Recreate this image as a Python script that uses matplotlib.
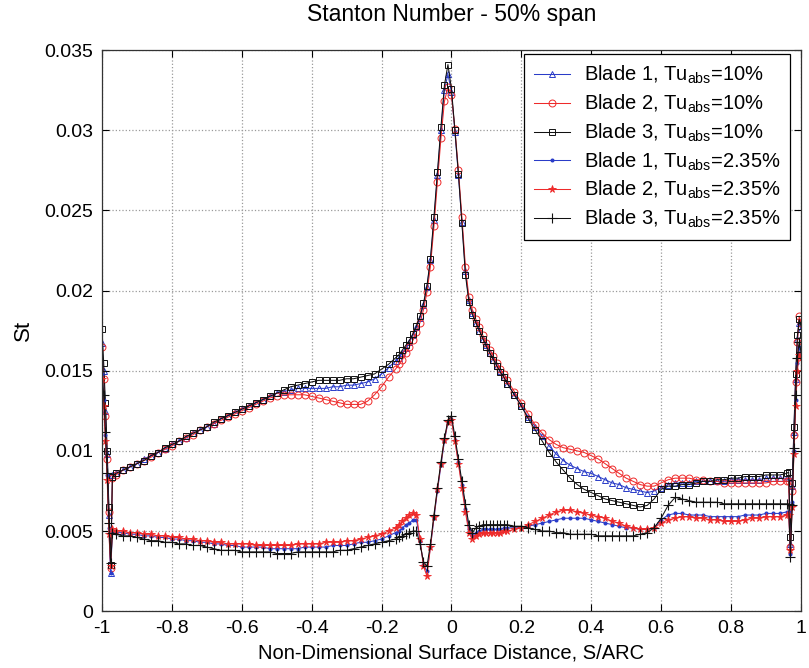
import matplotlib
matplotlib.use("Agg")
import matplotlib.pyplot as plt
from matplotlib import font_manager

# ---------------------------------------------------------------- data
# Surface stations (S/ARC) shared by every measurement series
s_arc = ([-1.0, -0.995, -0.99, -0.985, -0.98, -0.975, -0.97]
         + [-0.96, -0.94, -0.92, -0.90, -0.88, -0.86, -0.84, -0.82, -0.80, -0.78,
            -0.76, -0.74, -0.72, -0.70, -0.68, -0.66, -0.64, -0.62, -0.60, -0.58,
            -0.56, -0.54, -0.52, -0.50, -0.48, -0.46, -0.44, -0.42, -0.40, -0.38,
            -0.36, -0.34, -0.32, -0.30, -0.28, -0.26, -0.24, -0.22, -0.20, -0.18,
            -0.16]
         + [-0.15, -0.14, -0.13, -0.12, -0.11, -0.10, -0.09, -0.08, -0.07, -0.06,
            -0.05, -0.04, -0.03, -0.02, -0.01, 0.00, 0.01, 0.02, 0.03, 0.04,
            0.05, 0.06, 0.07, 0.08, 0.09, 0.10, 0.11, 0.12, 0.13, 0.14, 0.15]
         + [0.16, 0.18, 0.20, 0.22, 0.24, 0.26, 0.28, 0.30, 0.32, 0.34,
            0.36, 0.38, 0.40, 0.42, 0.44, 0.46, 0.48, 0.50, 0.52, 0.54,
            0.56, 0.58, 0.60, 0.62, 0.64, 0.66, 0.68, 0.70, 0.72, 0.74,
            0.76, 0.78, 0.80, 0.82, 0.84, 0.86, 0.88, 0.90, 0.92, 0.94, 0.96]
         + [0.965, 0.97, 0.975, 0.98, 0.985, 0.99, 0.995, 1.0])

# Blade 1, Tu_abs = 10 %
st_blade1_tu10 = ([0.0167, 0.0150, 0.0125, 0.0098, 0.0060, 0.0024, 0.0085]
    + [0.0086, 0.0088, 0.0090, 0.0092, 0.0095, 0.0097, 0.0099, 0.0101, 0.0104, 0.0106,
       0.0108, 0.0111, 0.0113, 0.0115, 0.0117, 0.0120, 0.0122, 0.0124, 0.0126, 0.0128,
       0.0130, 0.0132, 0.0134, 0.0136, 0.0137, 0.0138, 0.0139, 0.0139, 0.0139, 0.0139,
       0.0139, 0.0140, 0.0140, 0.0141, 0.0141, 0.0142, 0.0143, 0.0145, 0.0148, 0.0152,
       0.0156]
    + [0.0158, 0.0161, 0.0164, 0.0168, 0.0172, 0.0177, 0.0183, 0.0191, 0.0202, 0.0219,
       0.0244, 0.0272, 0.0300, 0.0325, 0.0335, 0.0324, 0.0299, 0.0272, 0.0243, 0.0212,
       0.0194, 0.0186, 0.0180, 0.0175, 0.0170, 0.0166, 0.0161, 0.0157, 0.0153, 0.0150,
       0.0146]
    + [0.0142, 0.0135, 0.0128, 0.0121, 0.0115, 0.0109, 0.0103, 0.0098, 0.0094, 0.0091,
       0.0089, 0.0087, 0.0086, 0.0084, 0.0082, 0.0080, 0.0079, 0.0077, 0.0076, 0.0075,
       0.0074, 0.0075, 0.0077, 0.0079, 0.0080, 0.0080, 0.0080, 0.0081, 0.0081, 0.0081,
       0.0081, 0.0081, 0.0082, 0.0082, 0.0082, 0.0082, 0.0082, 0.0083, 0.0083, 0.0083,
       0.0083]
    + [0.0083, 0.0042, 0.0078, 0.0112, 0.0145, 0.0170, 0.0180, 0.0176])

# Blade 2, Tu_abs = 10 %
st_blade2_tu10 = ([0.0165, 0.0145, 0.0122, 0.0095, 0.0062, 0.0027, 0.0083]
    + [0.0085, 0.0088, 0.0090, 0.0092, 0.0094, 0.0096, 0.0099, 0.0101, 0.0103, 0.0106,
       0.0108, 0.0110, 0.0113, 0.0115, 0.0117, 0.0119, 0.0121, 0.0123, 0.0125, 0.0127,
       0.0129, 0.0131, 0.0133, 0.0134, 0.0135, 0.0135, 0.0135, 0.0135, 0.0134, 0.0133,
       0.0132, 0.0131, 0.0130, 0.0129, 0.0129, 0.0129, 0.0131, 0.0135, 0.0140, 0.0146,
       0.0151]
    + [0.0154, 0.0157, 0.0161, 0.0165, 0.0169, 0.0174, 0.0180, 0.0188, 0.0199, 0.0215,
       0.0240, 0.0268, 0.0295, 0.0318, 0.0327, 0.0322, 0.0301, 0.0275, 0.0246, 0.0215,
       0.0196, 0.0188, 0.0182, 0.0177, 0.0172, 0.0167, 0.0163, 0.0159, 0.0155, 0.0151,
       0.0148]
    + [0.0144, 0.0137, 0.0130, 0.0123, 0.0116, 0.0111, 0.0107, 0.0104, 0.0102, 0.0101,
       0.0100, 0.0099, 0.0097, 0.0095, 0.0092, 0.0089, 0.0086, 0.0083, 0.0081, 0.0079,
       0.0078, 0.0078, 0.0080, 0.0082, 0.0083, 0.0083, 0.0083, 0.0082, 0.0082, 0.0081,
       0.0081, 0.0080, 0.0080, 0.0080, 0.0080, 0.0080, 0.0080, 0.0080, 0.0081, 0.0081,
       0.0081]
    + [0.0081, 0.0040, 0.0075, 0.0110, 0.0143, 0.0168, 0.0184, 0.0180])

# Blade 3, Tu_abs = 10 %
st_blade3_tu10 = ([0.0176, 0.0155, 0.0130, 0.0100, 0.0065, 0.0029, 0.0084]
    + [0.0086, 0.0088, 0.0090, 0.0092, 0.0094, 0.0097, 0.0099, 0.0102, 0.0104, 0.0106,
       0.0109, 0.0111, 0.0113, 0.0115, 0.0118, 0.0120, 0.0122, 0.0124, 0.0126, 0.0128,
       0.0130, 0.0132, 0.0134, 0.0136, 0.0138, 0.0140, 0.0141, 0.0142, 0.0143, 0.0144,
       0.0144, 0.0144, 0.0144, 0.0145, 0.0145, 0.0146, 0.0147, 0.0148, 0.0151, 0.0154,
       0.0158]
    + [0.0160, 0.0163, 0.0166, 0.0169, 0.0173, 0.0178, 0.0184, 0.0192, 0.0203, 0.0220,
       0.0246, 0.0274, 0.0302, 0.0328, 0.0341, 0.0326, 0.0300, 0.0273, 0.0242, 0.0210,
       0.0193, 0.0185, 0.0180, 0.0175, 0.0170, 0.0165, 0.0161, 0.0157, 0.0153, 0.0149,
       0.0146]
    + [0.0142, 0.0135, 0.0128, 0.0120, 0.0113, 0.0106, 0.0099, 0.0093, 0.0088, 0.0083,
       0.0079, 0.0076, 0.0074, 0.0072, 0.0070, 0.0069, 0.0068, 0.0067, 0.0066, 0.0065,
       0.0066, 0.0070, 0.0076, 0.0078, 0.0078, 0.0079, 0.0079, 0.0080, 0.0081, 0.0081,
       0.0082, 0.0082, 0.0083, 0.0083, 0.0084, 0.0084, 0.0084, 0.0085, 0.0085, 0.0085,
       0.0086]
    + [0.0087, 0.0046, 0.0080, 0.0115, 0.0148, 0.0172, 0.0182, 0.0178])

# Blade 1, Tu_abs = 2.35 %
st_blade1_tu235 = ([0.0148, 0.0132, 0.0110, 0.0085, 0.0052, 0.0024, 0.0050]
    + [0.0049, 0.0049, 0.0048, 0.0048, 0.0047, 0.0047, 0.0046, 0.0046, 0.0045, 0.0045,
       0.0044, 0.0044, 0.0043, 0.0043, 0.0042, 0.0042, 0.0041, 0.0041, 0.0040, 0.0040,
       0.0040, 0.0040, 0.0039, 0.0039, 0.0039, 0.0039, 0.0039, 0.0040, 0.0040, 0.0040,
       0.0040, 0.0041, 0.0041, 0.0041, 0.0042, 0.0043, 0.0043, 0.0044, 0.0045, 0.0047,
       0.0049]
    + [0.0050, 0.0052, 0.0054, 0.0055, 0.0057, 0.0057, 0.0044, 0.0029, 0.0025, 0.0040,
       0.0058, 0.0075, 0.0091, 0.0106, 0.0118, 0.0120, 0.0107, 0.0093, 0.0079, 0.0064,
       0.0051, 0.0047, 0.0049, 0.0050, 0.0051, 0.0051, 0.0051, 0.0051, 0.0051, 0.0051,
       0.0052]
    + [0.0052, 0.0052, 0.0052, 0.0053, 0.0054, 0.0055, 0.0056, 0.0057, 0.0058, 0.0058,
       0.0058, 0.0058, 0.0057, 0.0056, 0.0055, 0.0054, 0.0053, 0.0052, 0.0052, 0.0051,
       0.0051, 0.0052, 0.0057, 0.0060, 0.0061, 0.0061, 0.0060, 0.0060, 0.0060, 0.0059,
       0.0059, 0.0059, 0.0059, 0.0059, 0.0060, 0.0060, 0.0060, 0.0061, 0.0061, 0.0061,
       0.0062]
    + [0.0062, 0.0036, 0.0068, 0.0100, 0.0132, 0.0155, 0.0165, 0.0160])

# Blade 2, Tu_abs = 2.35 %
st_blade2_tu235 = ([0.0145, 0.0128, 0.0106, 0.0082, 0.0048, 0.0028, 0.0051]
    + [0.0050, 0.0050, 0.0049, 0.0049, 0.0048, 0.0048, 0.0047, 0.0047, 0.0046, 0.0046,
       0.0045, 0.0045, 0.0044, 0.0044, 0.0043, 0.0043, 0.0042, 0.0042, 0.0042, 0.0042,
       0.0041, 0.0041, 0.0041, 0.0041, 0.0041, 0.0041, 0.0042, 0.0042, 0.0042, 0.0042,
       0.0043, 0.0043, 0.0043, 0.0044, 0.0044, 0.0045, 0.0046, 0.0047, 0.0048, 0.0050,
       0.0052]
    + [0.0054, 0.0056, 0.0058, 0.0060, 0.0061, 0.0060, 0.0045, 0.0028, 0.0022, 0.0040,
       0.0059, 0.0076, 0.0092, 0.0107, 0.0118, 0.0119, 0.0106, 0.0092, 0.0077, 0.0062,
       0.0049, 0.0045, 0.0047, 0.0048, 0.0049, 0.0049, 0.0049, 0.0049, 0.0049, 0.0049,
       0.0050]
    + [0.0050, 0.0051, 0.0052, 0.0054, 0.0056, 0.0058, 0.0060, 0.0062, 0.0063, 0.0063,
       0.0062, 0.0061, 0.0060, 0.0059, 0.0058, 0.0056, 0.0055, 0.0053, 0.0052, 0.0051,
       0.0051, 0.0052, 0.0055, 0.0057, 0.0058, 0.0059, 0.0059, 0.0058, 0.0058, 0.0057,
       0.0057, 0.0056, 0.0056, 0.0056, 0.0057, 0.0058, 0.0058, 0.0059, 0.0059, 0.0059,
       0.0060]
    + [0.0060, 0.0038, 0.0065, 0.0098, 0.0128, 0.0150, 0.0160, 0.0158])

# Blade 3, Tu_abs = 2.35 %
st_blade3_tu235 = ([0.0150, 0.0135, 0.0112, 0.0086, 0.0055, 0.0030, 0.0049]
    + [0.0048, 0.0047, 0.0047, 0.0046, 0.0045, 0.0044, 0.0044, 0.0043, 0.0043, 0.0042,
       0.0042, 0.0041, 0.0041, 0.0040, 0.0039, 0.0038, 0.0038, 0.0038, 0.0037, 0.0037,
       0.0037, 0.0037, 0.0037, 0.0036, 0.0036, 0.0036, 0.0037, 0.0037, 0.0037, 0.0037,
       0.0037, 0.0037, 0.0038, 0.0038, 0.0039, 0.0040, 0.0041, 0.0042, 0.0043, 0.0044,
       0.0045]
    + [0.0046, 0.0047, 0.0048, 0.0049, 0.0050, 0.0050, 0.0042, 0.0031, 0.0028, 0.0042,
       0.0060, 0.0077, 0.0093, 0.0108, 0.0119, 0.0122, 0.0109, 0.0095, 0.0081, 0.0067,
       0.0054, 0.0049, 0.0052, 0.0053, 0.0054, 0.0054, 0.0054, 0.0054, 0.0054, 0.0054,
       0.0054]
    + [0.0054, 0.0053, 0.0053, 0.0052, 0.0051, 0.0050, 0.0050, 0.0049, 0.0049, 0.0048,
       0.0048, 0.0048, 0.0048, 0.0047, 0.0047, 0.0047, 0.0047, 0.0047, 0.0047, 0.0048,
       0.0049, 0.0052, 0.0058, 0.0066, 0.0071, 0.0070, 0.0069, 0.0068, 0.0068, 0.0068,
       0.0068, 0.0067, 0.0067, 0.0067, 0.0067, 0.0067, 0.0067, 0.0067, 0.0067, 0.0067,
       0.0067]
    + [0.0067, 0.0034, 0.0066, 0.0102, 0.0135, 0.0158, 0.0168, 0.0162])

series_labels = [r"Blade 1, Tu$_{\rm abs}$=10%",
                 r"Blade 2, Tu$_{\rm abs}$=10%",
                 r"Blade 3, Tu$_{\rm abs}$=10%",
                 r"Blade 1, Tu$_{\rm abs}$=2.35%",
                 r"Blade 2, Tu$_{\rm abs}$=2.35%",
                 r"Blade 3, Tu$_{\rm abs}$=2.35%"]

x_ticks = [-1, -0.8, -0.6, -0.4, -0.2, 0, 0.2, 0.4, 0.6, 0.8, 1]
x_tick_labels = ["-1", "-0.8", "-0.6", "-0.4", "-0.2", "0", "0.2", "0.4", "0.6", "0.8", "1"]
y_ticks = [0, 0.005, 0.01, 0.015, 0.02, 0.025, 0.03, 0.035]
y_tick_labels = ["0", "0.005", "0.01", "0.015", "0.02", "0.025", "0.03", "0.035"]

# ---------------------------------------------------------------- style
installed = {f.name for f in font_manager.fontManager.ttflist}
family = "Liberation Sans Narrow" if "Liberation Sans Narrow" in installed else "Liberation Sans"
plt.rcParams["font.family"] = [family, "DejaVu Sans"]
plt.rcParams["mathtext.fontset"] = "custom"
plt.rcParams["mathtext.rm"] = family
plt.rcParams["mathtext.it"] = family
plt.rcParams["mathtext.bf"] = family

blue = "#2a3cc8"
red = "#ee2a2a"
black = "#111111"

styles = [
    dict(color=blue, marker="^", ms=4.6, mfc="none", mew=0.7),
    dict(color=red, marker="o", ms=5.0, mfc="none", mew=0.7),
    dict(color=black, marker="s", ms=4.8, mfc="none", mew=0.7),
    dict(color=blue, marker=".", ms=3.8),
    dict(color=red, marker="*", ms=5.5, mew=0.6),
    dict(color=black, marker="+", ms=6.5, mew=0.8),
]
series = [st_blade1_tu10, st_blade2_tu10, st_blade3_tu10,
          st_blade1_tu235, st_blade2_tu235, st_blade3_tu235]

for vals in series:
    assert len(vals) == len(s_arc)

# ---------------------------------------------------------------- figure
fig = plt.figure(figsize=(8.09, 6.68), dpi=100)
ax = fig.add_axes([0.126, 0.085, 0.864, 0.84])

for vals, lab, st in zip(series, series_labels, styles):
    ax.plot(s_arc, vals, lw=0.75, label=lab, **st)

ax.set_xlim(-1, 1)
ax.set_ylim(0, 0.035)
ax.set_xticks(x_ticks)
ax.set_xticklabels(x_tick_labels)
ax.set_yticks(y_ticks)
ax.set_yticklabels(y_tick_labels)
ax.tick_params(direction="in", length=5, width=0.8, top=True, right=True,
               labelsize=14, pad=6)
ax.grid(True, linestyle=":", color="#9a9a9a", linewidth=0.9)
for sp in ax.spines.values():
    sp.set_linewidth(0.9)
    sp.set_color("#333333")

ax.set_title("Stanton Number - 50% span", fontsize=16.5, pad=21)
ax.set_xlabel("Non-Dimensional Surface Distance, S/ARC", fontsize=14.5, labelpad=5)
ax.set_ylabel("St", fontsize=16, labelpad=8)

leg = ax.legend(loc="upper right", bbox_to_anchor=(0.985, 0.993), borderaxespad=0,
                fontsize=14.5, fancybox=False, framealpha=1, edgecolor="black",
                handlelength=1.75, handletextpad=0.7, labelspacing=0.32,
                borderpad=0.5)
leg.get_frame().set_linewidth(0.9)

fig.savefig("out.png", dpi=100)
